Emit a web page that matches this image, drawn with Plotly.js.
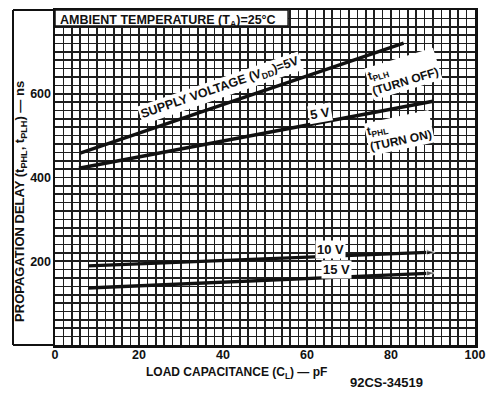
<!DOCTYPE html>
<html>
<head>
<meta charset="utf-8">
<script src="https://cdn.plot.ly/plotly-3.0.1.min.js"></script>
<style>
html,body{margin:0;padding:0;background:#fff;}
#chart{width:490px;height:403px;}
</style>
</head>
<body>
<div id="chart"></div>
<script>
// Load capacitance (pF) and propagation delay (ns)
var capPLH5 = [6, 83];
var tPLH5 = [458, 721];
var capPHL5 = [5.7, 90];
var tPHL5 = [422, 582];
var cap10 = [7.9, 90.5];
var t10 = [189, 222];
var cap15 = [7.9, 90.5];
var t15 = [136, 172];

var xTickVals = [0, 20, 40, 60, 80, 100];
var xTickText = ['0', '20', '40', '60', '80', '100'];
var yTickVals = [200, 400, 600];
var yTickText = ['200', '400', '600'];

var FONT = 'Liberation Sans, Arial, sans-serif';
var INK = '#111';
var GRID = '#1e1e1e';

function lineTrace(x, y, arrow) {
  var t = {
    x: x, y: y, type: 'scatter',
    mode: arrow ? 'lines+markers' : 'lines',
    line: {color: INK, width: 3.4},
    hoverinfo: 'skip', showlegend: false
  };
  if (arrow) {
    t.marker = {symbol: 'arrow', angleref: 'previous', color: INK,
      size: x.map(function(v, i){ return i === x.length - 1 ? 9 : 0; })};
  }
  return t;
}

var data = [
  lineTrace(capPLH5, tPLH5, false),
  lineTrace(capPHL5, tPHL5, false),
  lineTrace(cap10, t10, true),
  lineTrace(cap15, t15, true)
];

function lab(text, x, y, angle, size, align) {
  return {
    text: '<b>' + text + '</b>', x: x, y: y, xref: 'x', yref: 'y',
    showarrow: false, textangle: angle, bgcolor: '#fff', borderpad: 1,
    align: align || 'center',
    font: {family: FONT, size: size || 11, color: INK}
  };
}

var annotations = [
  lab('SUPPLY VOLTAGE (V<sub>DD</sub>)=5V', 39.5, 613, -19, 12.5),
  lab('5 V', 63, 554, -10, 13),
  lab('t<sub>PLH</sub><br>(TURN OFF)', 83, 646, -17, 12, 'left'),
  lab('t<sub>PHL</sub><br>(TURN ON)', 82, 506, -12, 12, 'left'),
  lab('10 V', 65.5, 229, 0, 13),
  lab('15 V', 67, 180, 0, 13),
  {text: '<b>AMBIENT TEMPERATURE (T<sub>A</sub>)=25°C</b>', x: 0.008, y: 0.997, xref: 'paper', yref: 'paper',
   xanchor: 'left', yanchor: 'top', showarrow: false, font: {family: FONT, size: 12.5, color: INK}},
  {text: '<b>PROPAGATION DELAY (t<sub>PHL</sub>, t<sub>PLH</sub>) — ns</b>', x: -0.081, y: 0.43, xref: 'paper', yref: 'paper',
   xanchor: 'center', yanchor: 'middle', textangle: -90, showarrow: false, font: {family: FONT, size: 13, color: INK}},
  {text: '<b>LOAD CAPACITANCE (C<sub>L</sub>) — pF</b>', x: 0.431, y: -0.084, xref: 'paper', yref: 'paper',
   xanchor: 'center', yanchor: 'middle', showarrow: false, font: {family: FONT, size: 12, color: INK}},
  {text: '<b>92CS-34519</b>', x: 0.79, y: -0.113, xref: 'paper', yref: 'paper',
   xanchor: 'center', yanchor: 'middle', showarrow: false, font: {family: FONT, size: 13, color: INK}}
];

var shapes = [
  {type: 'rect', xref: 'x', yref: 'y', x0: 0, x1: 55.5, y0: 762, y1: 800, fillcolor: '#fff', line: {color: INK, width: 1.5}, layer: 'above'},
  {type: 'line', xref: 'paper', yref: 'paper', x0: -0.1, x1: -0.1, y0: 0, y1: 1, line: {color: INK, width: 2}},
  {type: 'line', xref: 'paper', yref: 'paper', x0: -0.1, x1: 0, y0: 1, y1: 1, line: {color: INK, width: 2}},
  {type: 'line', xref: 'paper', yref: 'paper', x0: -0.1, x1: 0, y0: 0, y1: 0, line: {color: INK, width: 2}}
];

var layout = {
  width: 490, height: 403,
  margin: {l: 55, r: 15, t: 10, b: 58},
  paper_bgcolor: '#fff', plot_bgcolor: '#fff',
  font: {family: FONT, color: INK},
  showlegend: false,
  xaxis: {
    range: [0, 100], tickvals: xTickVals, ticktext: xTickText,
    showgrid: true, gridcolor: GRID, gridwidth: 1.8,
    minor: {dtick: 2, tick0: 0, showgrid: true, gridcolor: GRID, gridwidth: 1.6, ticks: ''},
    showline: true, linecolor: INK, linewidth: 2.5, mirror: true,
    ticks: '', zeroline: false, ticklabelstandoff: -4,
    tickfont: {family: FONT, size: 12.5, color: INK, weight: 'bold'}
  },
  yaxis: {
    range: [0, 800], tickvals: yTickVals, ticktext: yTickText,
    showgrid: true, gridcolor: GRID, gridwidth: 1.6,
    minor: {dtick: 20, tick0: 0, showgrid: true, gridcolor: GRID, gridwidth: 1.6, ticks: ''},
    showline: true, linecolor: INK, linewidth: 2.5, mirror: true,
    ticks: '', zeroline: false, ticklabelstandoff: -1,
    tickfont: {family: FONT, size: 12.5, color: INK, weight: 'bold'}
  },
  annotations: annotations,
  shapes: shapes
};

Plotly.newPlot('chart', data, layout, {displayModeBar: false, staticPlot: true});
</script>
</body>
</html>
